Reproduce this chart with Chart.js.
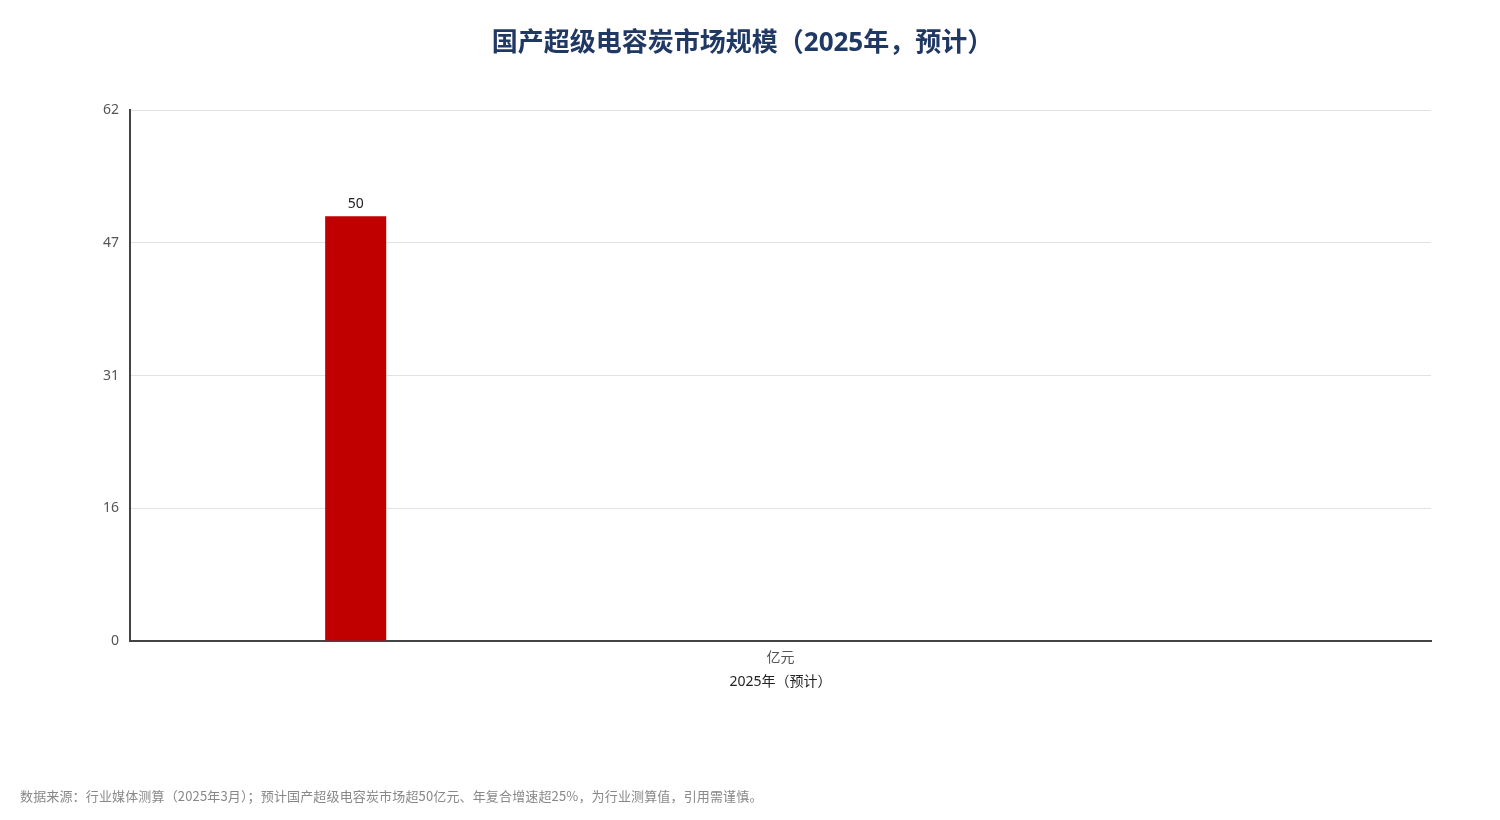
<!DOCTYPE html>
<html>
<head>
<meta charset="utf-8">
<script src="https://cdn.jsdelivr.net/npm/chart.js@4.4.1/dist/chart.umd.min.js"></script>
<style>
  html, body { margin: 0; padding: 0; background: #fff; }
  #wrap { position: relative; width: 1500px; height: 820px; }
  #note {
    position: absolute; left: 20px; top: 786px;
    font: 13px "Noto Sans CJK SC", "Noto Sans", sans-serif;
    letter-spacing: 0.15px;
    color: #888; white-space: nowrap;
  }
</style>
</head>
<body>
<div id="wrap">
  <canvas id="chart"></canvas>
  <div id="note"></div>
</div>
<script>
// chart data
const categories = ['亿元'];
const seriesNames = ['国产超级电容炭市场规模', '', ''];
const seriesValues = [[50], [null], [null]];
const yTickLabels = ['0', '16', '31', '47', '62'];
const yMax = 62.5;
const xAxisTitle = '2025年（预计）';
const chartTitle = '国产超级电容炭市场规模（2025年，预计）';
const sourceNote = '数据来源：行业媒体测算（2025年3月）；预计国产超级电容炭市场超50亿元、年复合增速超25%，为行业测算值，引用需谨慎。';

const FONT = '"Noto Sans", "Noto Sans CJK SC", sans-serif';

document.getElementById('note').textContent = sourceNote;

// value labels above bars
const valueLabels = {
    id: 'valueLabels',
    afterDatasetsDraw(chart) {
        const ctx = chart.ctx;
        ctx.save();
        ctx.font = '14px ' + FONT;
        ctx.fillStyle = '#222';
        ctx.textAlign = 'center';
        ctx.textBaseline = 'bottom';
        chart.data.datasets.forEach((ds, i) => {
            const meta = chart.getDatasetMeta(i);
            meta.data.forEach((bar, j) => {
                const v = ds.data[j];
                if (v === null || v === undefined) return;
                ctx.fillText(String(v), bar.x, bar.y - 5);
            });
        });
        ctx.restore();
    }
};

new Chart(document.getElementById('chart'), {
    type: 'bar',
    data: {
        labels: categories,
        datasets: seriesNames.map((name, i) => ({
            label: name,
            data: seriesValues[i],
            backgroundColor: '#c00000',
            borderWidth: 0,
            categoryPercentage: 0.9796,
            barPercentage: 0.1437
        }))
    },
    options: {
        responsive: true,
        maintainAspectRatio: false,
        animation: false,
        layout: { padding: { left: 54, right: 69, top: 0, bottom: 131 } },
        plugins: {
            legend: { display: false },
            tooltip: { enabled: false },
            title: {
                display: true,
                text: chartTitle,
                color: '#1f3864',
                font: { family: FONT, size: 26, weight: 'bold' },
                padding: { top: 28, bottom: 51 }
            }
        },
        scales: {
            x: {
                grid: { display: false, drawTicks: false },
                border: { display: true, color: '#444', width: 2 },
                ticks: {
                    color: '#555',
                    font: { family: FONT, size: 14, lineHeight: 1.0 },
                    padding: 10
                },
                title: {
                    display: true,
                    text: xAxisTitle,
                    color: '#222',
                    font: { family: FONT, size: 14, lineHeight: 1.0 },
                    padding: { top: 0, bottom: 0 }
                }
            },
            y: {
                min: 0,
                max: yMax,
                afterFit(scale) { scale.width = 76; },
                grid: { color: '#e2e2e2', lineWidth: 1, drawTicks: false },
                border: { display: true, color: '#444', width: 2 },
                ticks: {
                    stepSize: yMax / 4,
                    color: '#555',
                    font: { family: FONT, size: 14 },
                    padding: 11,
                    callback: (v, i) => yTickLabels[i]
                }
            }
        }
    },
    plugins: [valueLabels]
});
</script>
</body>
</html>
